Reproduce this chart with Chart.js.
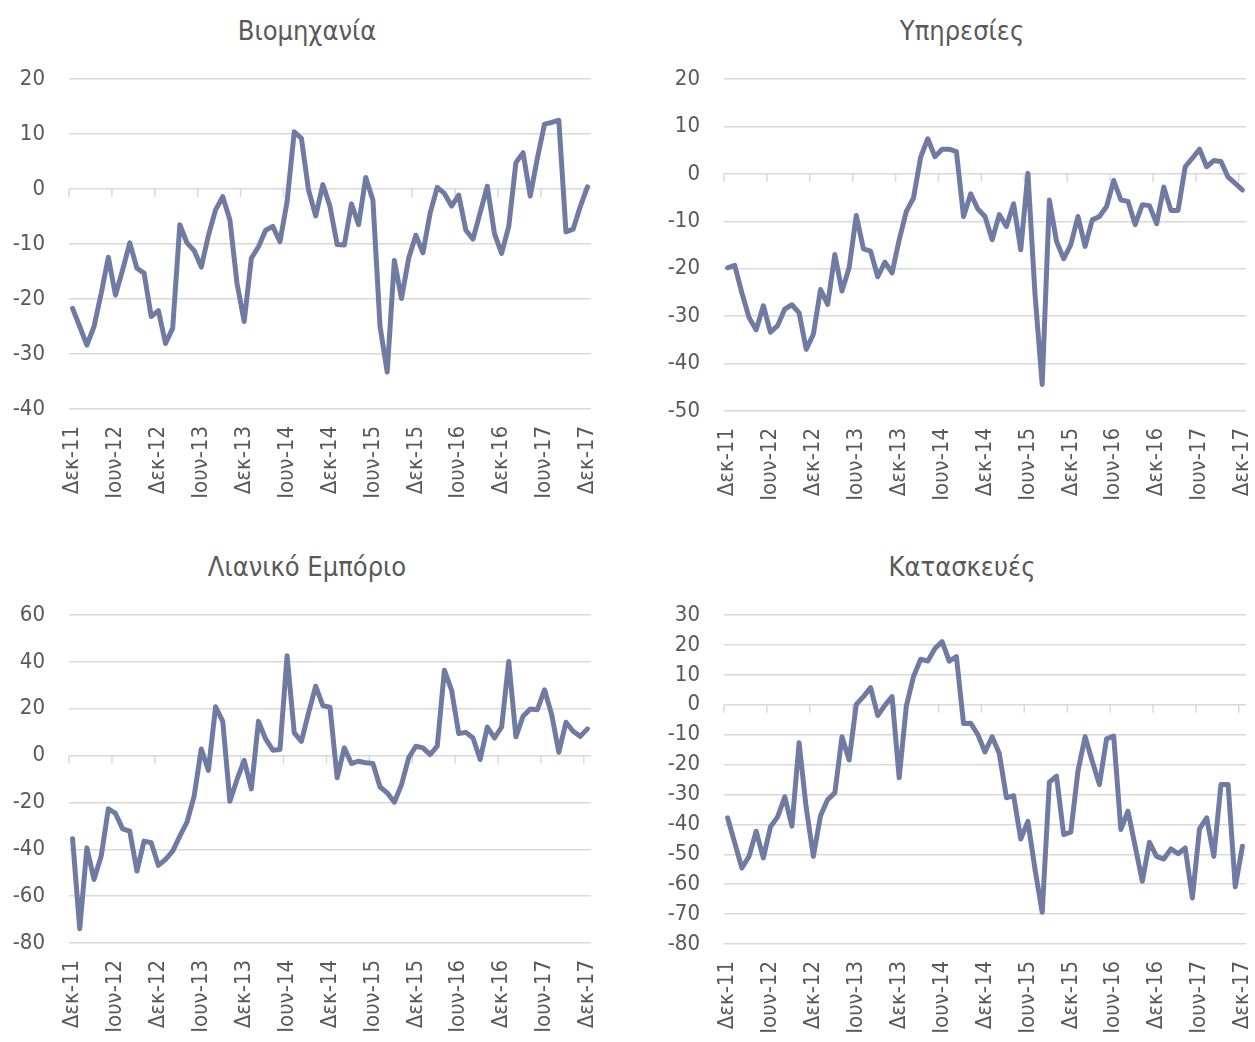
<!DOCTYPE html>
<html>
<head>
<meta charset="utf-8">
<script src="https://cdn.jsdelivr.net/npm/chart.js@4.4.1/dist/chart.umd.min.js"></script>
<style>
  body { margin: 0; background: #fff; }
  #wrap { position: relative; width: 1255px; height: 1042px; overflow: hidden; }
  canvas { position: absolute; }
  .ttl {
    position: absolute; width: 420px; text-align: center;
    font-family: 'DejaVu Sans Condensed', 'DejaVu Sans', sans-serif;
    font-size: 27px; color: #595959; transform: translate(-50%, -50%);
    white-space: nowrap;
  }
</style>
</head>
<body>
<div id="wrap">
  <div class="ttl" style="left:307px; top:30px">Βιομηχανία</div>
  <div class="ttl" style="left:962px; top:30px">Υπηρεσίες</div>
  <div class="ttl" style="left:307px; top:566px">Λιανικό Εμπόριο</div>
  <div class="ttl" style="left:962px; top:566px">Κατασκευές</div>
  <canvas id="c1" width="627" height="521" style="left:0; top:0"></canvas>
  <canvas id="c2" width="628" height="521" style="left:627px; top:0"></canvas>
  <canvas id="c3" width="627" height="521" style="left:0; top:521px"></canvas>
  <canvas id="c4" width="628" height="521" style="left:627px; top:521px"></canvas>
</div>
<script>
// monthly categories Dec-11 .. Dec-17
const monthNames = ['Ιαν', 'Φεβ', 'Μαρ', 'Απρ', 'Μαϊ', 'Ιουν', 'Ιουλ', 'Αυγ', 'Σεπ', 'Οκτ', 'Νοε', 'Δεκ'];
const months = [];
for (let k = 0; k < 73; k++) {
  months.push(monthNames[(11 + k) % 12] + '-' + (11 + Math.floor((11 + k) / 12)));
}

const industry = [-21.7, -25.0, -28.4, -25.0, -19.0, -12.4, -19.3, -14.7, -9.8, -14.4, -15.3, -23.2, -22.1,
  -28.1, -25.3, -6.5, -9.8, -11.2, -14.2, -8.4, -3.8, -1.4, -5.6, -17.2, -24.1, -12.6, -10.5, -7.5, -6.8,
  -9.6, -2.3, 10.4, 9.2, -0.2, -4.9, 0.8, -3.2, -10.1, -10.2, -2.7, -6.5, 2.1, -2.0, -25.0, -33.3, -13.0,
  -19.9, -12.6, -8.4, -11.6, -4.4, 0.3, -0.8, -3.1, -1.1, -7.5, -9.1, -4.3, 0.5, -8.1, -11.7, -6.8, 4.8,
  6.6, -1.3, 5.6, 11.8, 12.1, 12.5, -7.8, -7.3, -3.2, 0.4];

const services = [-19.8, -19.3, -25.1, -30.3, -32.9, -27.8, -33.4, -32.0, -28.5, -27.6, -29.3, -37.0, -33.8,
  -24.4, -27.5, -17.0, -24.7, -19.8, -8.8, -15.8, -16.3, -21.7, -18.6, -20.9, -13.9, -7.9, -5.1, 3.5, 7.4,
  3.6, 5.2, 5.2, 4.7, -9.0, -4.2, -7.4, -9.0, -13.9, -8.6, -11.1, -6.3, -16.0, 0.1, -25.5, -44.4, -5.5,
  -14.2, -17.9, -14.9, -9.0, -15.3, -9.7, -9.0, -6.9, -1.4, -5.5, -5.8, -10.7, -6.5, -6.7, -10.5, -2.8,
  -7.7, -7.7, 1.5, 3.3, 5.2, 1.5, 2.8, 2.6, -0.7, -2.0, -3.4];

const retail = [-35.5, -73.9, -39.4, -52.9, -42.9, -22.7, -24.7, -31.3, -32.3, -49.3, -36.5, -37.2, -46.9,
  -44.3, -40.8, -34.4, -28.4, -17.3, 2.8, -6.3, 20.8, 14.6, -19.5, -10.2, -2.0, -14.2, 14.6, 7.1, 2.3,
  2.6, 42.6, 9.7, 6.1, 18.2, 29.6, 21.3, 20.6, -9.5, 3.3, -3.4, -2.4, -3.1, -3.4, -13.4, -15.9, -19.9,
  -12.4, -1.0, 4.0, 3.3, 0.4, 4.0, 36.4, 27.9, 9.4, 9.9, 7.5, -1.7, 12.2, 7.5, 12.2, 40.2, 8.0, 16.8,
  19.9, 19.6, 28.1, 17.5, 1.4, 14.2, 10.4, 8.2, 11.4];

const construction = [-37.8, -46.2, -54.6, -50.7, -42.3, -51.2, -40.8, -37.5, -30.8, -40.6, -12.7, -34.5,
  -50.7, -37.1, -31.7, -29.5, -10.7, -18.5, 0.1, 2.7, 5.7, -3.6, -0.2, 2.7, -24.4, -0.4, 9.4, 15.2, 14.6,
  18.8, 21.1, 14.6, 16.1, -6.3, -6.2, -10.0, -15.8, -10.7, -16.3, -31.1, -30.4, -44.9, -39.0, -55.1, -69.4,
  -25.9, -23.9, -43.4, -42.6, -22.2, -10.7, -18.9, -26.7, -11.4, -10.5, -41.7, -35.6, -47.3, -59.0, -46.0,
  -50.7, -51.6, -48.2, -49.8, -47.9, -64.6, -41.5, -37.8, -50.7, -26.7, -26.7, -60.9, -47.3];

const FONT = "'DejaVu Sans Condensed', 'DejaVu Sans', sans-serif";
const TEXT = '#595959';
const GRID = '#d9d9d9';
const LINE = '#6f7ba3';

// small tick marks hanging below the zero line, every 6 months
const zeroTicks = {
  id: 'zeroTicks',
  beforeDatasetsDraw(chart) {
    const xs = chart.scales.x, ys = chart.scales.y;
    const y0 = ys.getPixelForValue(0);
    const half = (xs.right - xs.left) / months.length / 2;
    const ctx = chart.ctx;
    ctx.save();
    ctx.strokeStyle = GRID;
    ctx.lineWidth = 1.5;
    ctx.beginPath();
    for (let k = 0; k < months.length; k += 6) {
      const x = xs.getPixelForValue(k) - half;
      ctx.moveTo(x, y0);
      ctx.lineTo(x, y0 + 8);
    }
    ctx.stroke();
    ctx.restore();
  }
};

function makeChart(id, values, yMin, yMax, step, p) {
  new Chart(document.getElementById(id), {
    type: 'line',
    data: {
      labels: months,
      datasets: [{
        data: values,
        borderColor: LINE,
        borderWidth: 5,
        pointRadius: 0,
        tension: 0,
        borderJoinStyle: 'round',
        borderCapStyle: 'round',
        fill: false
      }]
    },
    options: {
      responsive: false,
      animation: false,
      layout: { padding: { top: p.top, right: p.right, left: 0, bottom: 0 } },
      plugins: { legend: { display: false }, tooltip: { enabled: false } },
      scales: {
        x: {
          offset: true,
          grid: { display: false, drawTicks: false },
          border: { display: false },
          ticks: {
            autoSkip: false,
            minRotation: 90,
            maxRotation: 90,
            padding: 17,
            color: TEXT,
            font: { family: FONT, size: 22 },
            callback: (v, i) => (i % 6 === 0 ? months[i] : '')
          },
          afterFit: (s) => {
            s.height = p.xH;
            s.paddingLeft = 0;
            s.paddingRight = 0;
          }
        },
        y: {
          min: yMin,
          max: yMax,
          grid: { color: GRID, lineWidth: 1.5, drawTicks: false },
          border: { display: false },
          ticks: {
            stepSize: step,
            padding: 24,
            color: TEXT,
            font: { family: FONT, size: 22 }
          },
          afterFit: (s) => { s.width = p.yW; }
        }
      }
    },
    plugins: [zeroTicks]
  });
}

makeChart('c1', industry, -40, 20, 10, { top: 79, right: 36, yW: 69, xH: 112 });
makeChart('c2', services, -50, 20, 10, { top: 79, right: 9, yW: 97, xH: 110 });
makeChart('c3', retail, -80, 60, 20, { top: 94, right: 36, yW: 69, xH: 99 });
makeChart('c4', construction, -80, 30, 10, { top: 94, right: 9, yW: 97, xH: 98 });
</script>
</body>
</html>
